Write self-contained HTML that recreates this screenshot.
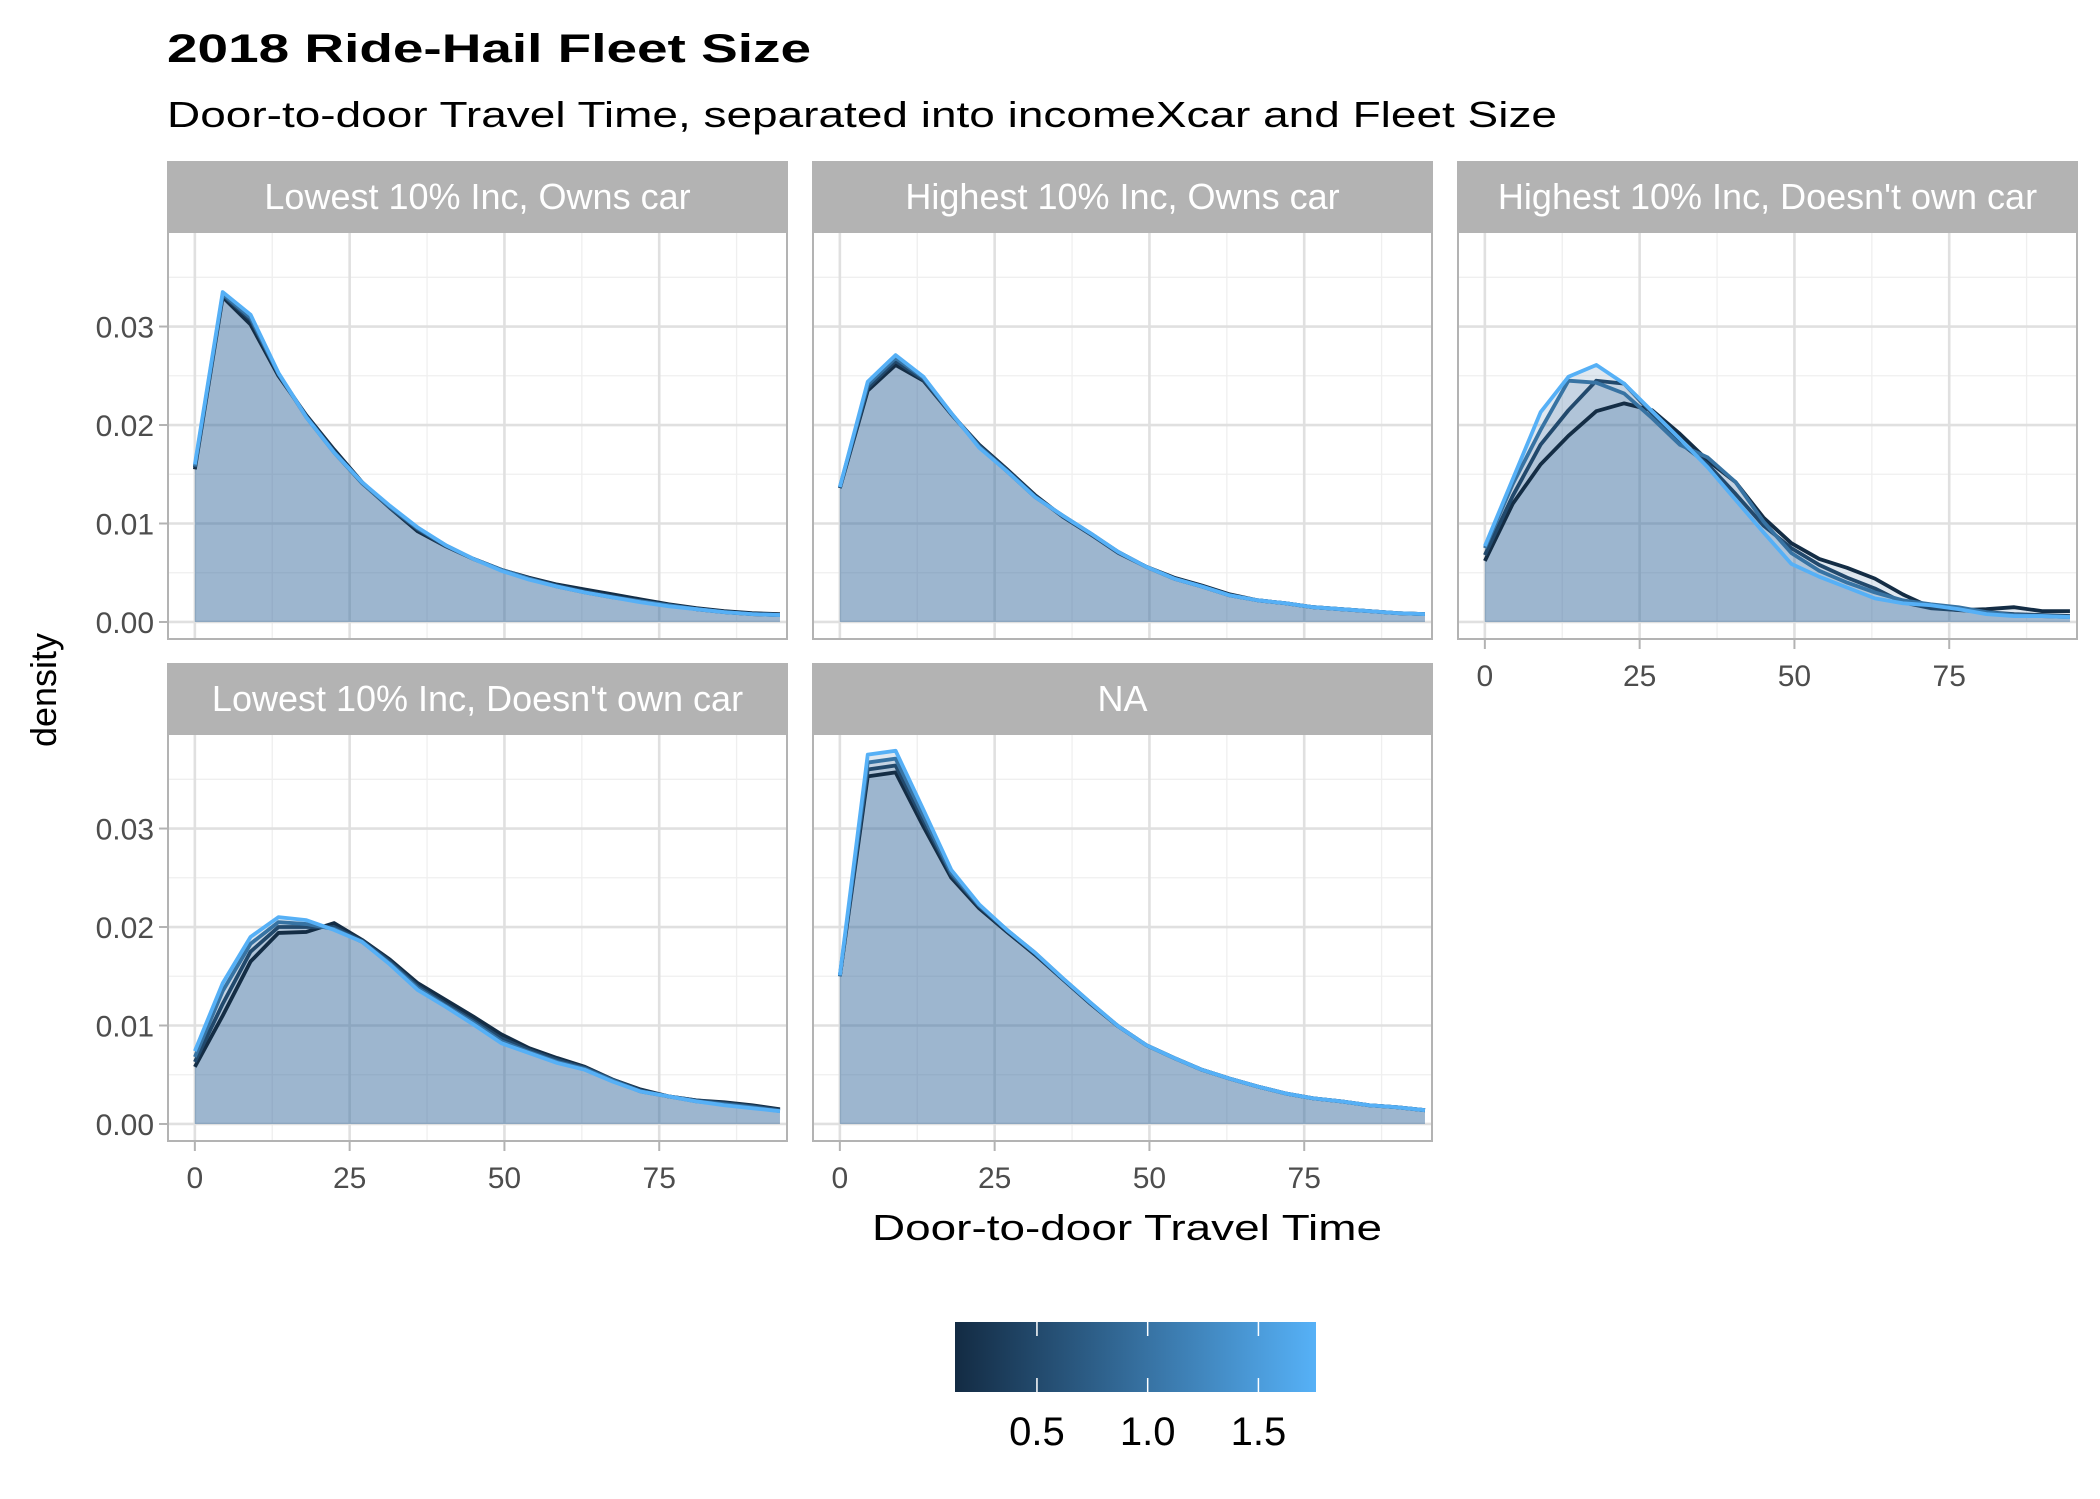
<!DOCTYPE html>
<html><head><meta charset="utf-8"><style>
html,body{margin:0;padding:0;background:#fff;}
svg{display:block;font-family:"Liberation Sans",Arial,sans-serif;}
</style></head><body>
<svg id="chart" width="2100" height="1499" viewBox="0 0 2100 1499" xmlns="http://www.w3.org/2000/svg">
<text x="167" y="62" font-size="40" font-weight="bold" fill="#000" textLength="644" lengthAdjust="spacingAndGlyphs">2018 Ride-Hail Fleet Size</text>
<text x="167" y="127" font-size="36" fill="#000" textLength="1390" lengthAdjust="spacingAndGlyphs">Door-to-door Travel Time, separated into incomeXcar and Fleet Size</text>
<text transform="translate(56,690) rotate(-90)" text-anchor="middle" font-size="36" fill="#000">density</text>
<text x="1127" y="1240" text-anchor="middle" font-size="36" fill="#000" textLength="510" lengthAdjust="spacingAndGlyphs">Door-to-door Travel Time</text>
<g id="panels"></g>
<g id="legend"></g>
</svg>
<script>
// ---- data ----
const xs = [0,4.5,9,13.5,18,22.5,27,31.5,36,40.5,45,49.5,54,58.5,63,67.5,72,76.5,81,85.5,90,94.5];
const fleetSizes = [0.15, 0.5, 1.0, 1.75];
const xTicks = [0,25,50,75];
const yTicks = [0,0.01,0.02,0.03];
const yTickLabels = ["0.00","0.01","0.02","0.03"];
const legendTicks = [0.5,1.0,1.5];
const legendTickLabels = ["0.5","1.0","1.5"];
const panelTitles = ["Lowest 10% Inc, Owns car","Highest 10% Inc, Owns car","Highest 10% Inc, Doesn't own car","Lowest 10% Inc, Doesn't own car","NA"];

const p1s1 = [0.0155,0.0330,0.0302,0.0250,0.0210,0.0175,0.0142,0.0116,0.0092,0.0077,0.0064,0.0053,0.0045,0.0038,0.0033,0.0028,0.0023,0.0018,0.0014,0.0011,0.0009,0.0008];
const p1s2 = [0.0157,0.0332,0.0307,0.0252,0.0209,0.0173,0.0141,0.0116,0.0094,0.0077,0.0064,0.0053,0.0044,0.0037,0.0031,0.0026,0.0021,0.0017,0.0013,0.0010,0.0008,0.0007];
const p1s3 = [0.0158,0.0333,0.0309,0.0252,0.0208,0.0172,0.0141,0.0117,0.0095,0.0078,0.0064,0.0053,0.0044,0.0036,0.0030,0.0025,0.0021,0.0017,0.0013,0.0010,0.0008,0.0007];
const p1s4 = [0.0160,0.0335,0.0312,0.0253,0.0208,0.0172,0.0142,0.0118,0.0096,0.0078,0.0064,0.0052,0.0043,0.0036,0.0030,0.0025,0.0020,0.0016,0.0013,0.0010,0.0008,0.0007];

const p2s1 = [0.0136,0.0235,0.0261,0.0245,0.0211,0.0180,0.0155,0.0129,0.0107,0.0089,0.0071,0.0056,0.0045,0.0037,0.0028,0.0022,0.0019,0.0015,0.0013,0.0011,0.0009,0.0008];
const p2s2 = [0.0136,0.0238,0.0265,0.0246,0.0211,0.0179,0.0154,0.0128,0.0107,0.0089,0.0070,0.0056,0.0044,0.0036,0.0027,0.0022,0.0019,0.0015,0.0013,0.0011,0.0009,0.0008];
const p2s3 = [0.0137,0.0241,0.0268,0.0248,0.0212,0.0178,0.0153,0.0127,0.0108,0.0090,0.0071,0.0056,0.0044,0.0036,0.0027,0.0022,0.0019,0.0015,0.0013,0.0011,0.0009,0.0008];
const p2s4 = [0.0137,0.0244,0.0271,0.0249,0.0212,0.0177,0.0153,0.0127,0.0108,0.0090,0.0071,0.0056,0.0044,0.0036,0.0027,0.0022,0.0019,0.0015,0.0013,0.0011,0.0009,0.0008];

const p3s1 = [0.0062,0.0120,0.0160,0.0189,0.0214,0.0222,0.0215,0.0191,0.0164,0.0142,0.0106,0.0080,0.0064,0.0055,0.0044,0.0028,0.0015,0.0012,0.0013,0.0015,0.0011,0.0011];
const p3s2 = [0.0068,0.0128,0.0180,0.0215,0.0245,0.0242,0.0212,0.0182,0.0160,0.0130,0.0098,0.0075,0.0058,0.0045,0.0034,0.0020,0.0014,0.0012,0.0010,0.0008,0.0007,0.0006];
const p3s3 = [0.0075,0.0140,0.0195,0.0245,0.0243,0.0232,0.0207,0.0180,0.0167,0.0142,0.0102,0.0070,0.0052,0.0040,0.0030,0.0022,0.0018,0.0015,0.0010,0.0007,0.0006,0.0005];
const p3s4 = [0.0077,0.0145,0.0213,0.0249,0.0261,0.0242,0.0214,0.0186,0.0157,0.0124,0.0091,0.0059,0.0046,0.0035,0.0024,0.0019,0.0017,0.0013,0.0008,0.0006,0.0006,0.0005];

const p4s1 = [0.0058,0.0110,0.0165,0.0194,0.0195,0.0204,0.0187,0.0167,0.0143,0.0126,0.0109,0.0091,0.0077,0.0067,0.0058,0.0045,0.0035,0.0028,0.0024,0.0022,0.0019,0.0015];
const p4s2 = [0.0063,0.0122,0.0175,0.0200,0.0200,0.0200,0.0186,0.0165,0.0140,0.0122,0.0105,0.0087,0.0075,0.0065,0.0057,0.0045,0.0034,0.0028,0.0024,0.0021,0.0018,0.0014];
const p4s3 = [0.0068,0.0135,0.0183,0.0205,0.0203,0.0198,0.0185,0.0163,0.0138,0.0120,0.0103,0.0084,0.0073,0.0063,0.0056,0.0044,0.0033,0.0028,0.0023,0.0020,0.0017,0.0013];
const p4s4 = [0.0074,0.0143,0.0190,0.0210,0.0207,0.0197,0.0185,0.0162,0.0136,0.0119,0.0101,0.0082,0.0072,0.0062,0.0055,0.0043,0.0033,0.0028,0.0023,0.0019,0.0016,0.0013];

const p5s1 = [0.0150,0.0353,0.0357,0.0302,0.0250,0.0219,0.0195,0.0172,0.0147,0.0122,0.0099,0.0080,0.0067,0.0055,0.0046,0.0038,0.0031,0.0026,0.0023,0.0019,0.0017,0.0014];
const p5s2 = [0.0150,0.0360,0.0364,0.0308,0.0253,0.0221,0.0196,0.0173,0.0147,0.0122,0.0099,0.0080,0.0067,0.0055,0.0046,0.0038,0.0031,0.0026,0.0023,0.0019,0.0017,0.0014];
const p5s3 = [0.0150,0.0367,0.0371,0.0313,0.0255,0.0222,0.0197,0.0174,0.0148,0.0123,0.0099,0.0080,0.0067,0.0055,0.0046,0.0038,0.0031,0.0026,0.0023,0.0019,0.0017,0.0014];
const p5s4 = [0.0151,0.0375,0.0379,0.0319,0.0258,0.0223,0.0197,0.0174,0.0148,0.0123,0.0099,0.0080,0.0067,0.0055,0.0046,0.0038,0.0031,0.0026,0.0023,0.0019,0.0017,0.0014];

const panelSeries = [[p1s1,p1s2,p1s3,p1s4],[p2s1,p2s2,p2s3,p2s4],[p3s1,p3s2,p3s3,p3s4],[p4s1,p4s2,p4s3,p4s4],[p5s1,p5s2,p5s3,p5s4]];

// ---- layout ----
const NS = "http://www.w3.org/2000/svg";
const colLeft = [167, 812, 1457];
const panelW = 621, stripH = 71, plotH = 408;
const rowStripTop = [161, 663];
const panelPos = [[0,0],[1,0],[2,0],[0,1],[1,1]];
const showX = [false,false,true,true,true];
const showY = [true,false,false,true,false];
const xMin = -4.5, xMax = 95.8;
const yMin = -0.00183, yMax = 0.0396;
const legMin = 0.13, legMax = 1.76;
const lowC = [19,43,67], highC = [86,177,247];

function mk(tag, attrs, parent){
  const e = document.createElementNS(NS, tag);
  for (const k in attrs) e.setAttribute(k, attrs[k]);
  parent.appendChild(e);
  return e;
}
function colorFor(v){
  const t = Math.max(0, Math.min(1, (v - legMin)/(legMax - legMin)));
  const c = lowC.map((a,i)=>Math.round(a + (highC[i]-a)*t));
  return `rgb(${c[0]},${c[1]},${c[2]})`;
}
const panelsG = document.getElementById('panels');

panelTitles.forEach((title, pi) => {
  const [col,row] = panelPos[pi];
  const L = colLeft[col], sT = rowStripTop[row], pT = sT + stripH, pB = pT + plotH;
  const sx = v => L + (v - xMin) / (xMax - xMin) * panelW;
  const sy = v => pB - (v - yMin) / (yMax - yMin) * plotH;
  const g = mk('g', {}, panelsG);
  
  

  const strip = mk('rect', {x:L, y:sT, width:panelW, height:stripH, fill:'#b3b3b3'}, g);
  
  
  const st = mk('text', {x:L+panelW/2, y:sT+48, 'text-anchor':'middle', 'font-size':'36', fill:'#fff'}, g);
  st.textContent = title;
  
  

  mk('rect', {x:L, y:pT, width:panelW, height:plotH, fill:'#fff'}, g);
  const grid = mk('g', {}, g);
  
  
  for (let v = 0.005; v < yMax; v += 0.01) mk('line', {x1:L, x2:L+panelW, y1:sy(v), y2:sy(v), stroke:'#efefef', 'stroke-width':1.3}, grid);
  for (let v = 12.5; v < xMax; v += 25) mk('line', {x1:sx(v), x2:sx(v), y1:pT, y2:pB, stroke:'#efefef', 'stroke-width':1.3}, grid);
  yTicks.forEach(v => mk('line', {x1:L, x2:L+panelW, y1:sy(v), y2:sy(v), stroke:'#e0e0e0', 'stroke-width':2.6}, grid));
  xTicks.forEach(v => mk('line', {x1:sx(v), x2:sx(v), y1:pT, y2:pB, stroke:'#e0e0e0', 'stroke-width':2.6}, grid));

  const clipId = 'clip' + pi;
  const cp = mk('clipPath', {id:clipId}, g);
  mk('rect', {x:L, y:pT, width:panelW, height:plotH}, cp);
  const dataG = mk('g', {'clip-path':`url(#${clipId})`}, g);
  const series = panelSeries[pi];
  series.forEach((arr, si) => {
    let d = `M${sx(xs[0])},${sy(0)}`;
    arr.forEach((v,i) => { d += ` L${sx(xs[i])},${sy(v)}`; });
    d += ` L${sx(xs[xs.length-1])},${sy(0)} Z`;
    const a = mk('path', {d:d, fill:'rgba(65,113,161,0.16)', stroke:'none'}, dataG);
    
    
  });
  series.forEach((arr, si) => {
    const pts = arr.map((v,i)=>`${sx(xs[i])},${sy(v)}`).join(' ');
    const l = mk('polyline', {points:pts, fill:'none', stroke:colorFor(fleetSizes[si]), 'stroke-width':3.8, 'stroke-linejoin':'round'}, dataG);
    
    
  });
  mk('rect', {x:L+1, y:pT, width:panelW-2, height:plotH-1, fill:'none', stroke:'#b3b3b3', 'stroke-width':2}, g);

  if (showY[pi]) {
    const ya = mk('g', {}, g);
    
    
    yTicks.forEach((v,i) => {
      mk('line', {x1:L-8, x2:L, y1:sy(v), y2:sy(v), stroke:'#b3b3b3', 'stroke-width':2}, ya);
      const t = mk('text', {x:L-13, y:sy(v)+11, 'text-anchor':'end', 'font-size':'30', fill:'#4d4d4d'}, ya);
      t.textContent = yTickLabels[i];
    });
  }
  if (showX[pi]) {
    const xa = mk('g', {}, g);
    
    
    xTicks.forEach(v => {
      mk('line', {x1:sx(v), x2:sx(v), y1:pB, y2:pB+9, stroke:'#b3b3b3', 'stroke-width':2}, xa);
      const t = mk('text', {x:sx(v), y:pB+46, 'text-anchor':'middle', 'font-size':'30', fill:'#4d4d4d'}, xa);
      t.textContent = String(v);
    });
  }
});

// ---- legend ----
const leg = document.getElementById('legend');
const lx0 = 955, lx1 = 1316, ly0 = 1322, ly1 = 1392;
const lsx = v => lx0 + (v - legMin)/(legMax - legMin)*(lx1 - lx0);
const defs = mk('defs', {}, leg);
const grad = mk('linearGradient', {id:'legGrad', x1:'0', x2:'1', y1:'0', y2:'0'}, defs);
mk('stop', {offset:'0', 'stop-color':colorFor(legMin)}, grad);
mk('stop', {offset:'0.5', 'stop-color':colorFor((legMin+legMax)/2)}, grad);
mk('stop', {offset:'1', 'stop-color':colorFor(legMax)}, grad);
const bar = mk('rect', {x:lx0, y:ly0, width:lx1-lx0, height:ly1-ly0, fill:'url(#legGrad)'}, leg);


legendTicks.forEach((v,i) => {
  mk('line', {x1:lsx(v), x2:lsx(v), y1:ly0, y2:ly0+14, stroke:'#fff', 'stroke-width':1.5}, leg);
  mk('line', {x1:lsx(v), x2:lsx(v), y1:ly1-14, y2:ly1, stroke:'#fff', 'stroke-width':1.5}, leg);
  const t = mk('text', {x:lsx(v), y:1445, 'text-anchor':'middle', 'font-size':'40', fill:'#000'}, leg);
  t.textContent = legendTickLabels[i];
  
  
});
</script>
</body></html>
